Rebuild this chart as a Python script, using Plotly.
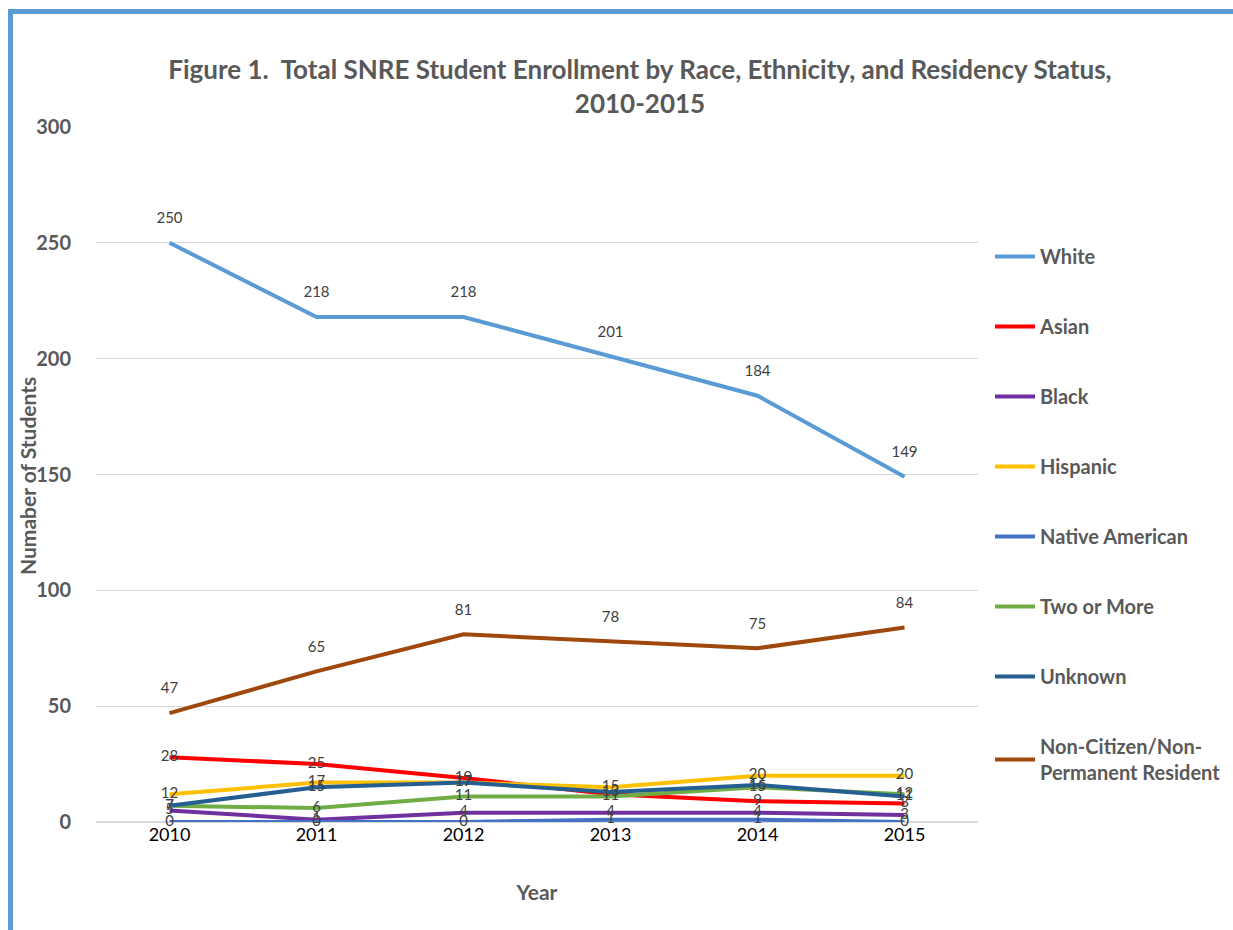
import plotly.graph_objects as go

# Enrollment counts by group, 2010-2015
years = ["2010", "2011", "2012", "2013", "2014", "2015"]
white = [250, 218, 218, 201, 184, 149]
asian = [28, 25, 19, 12, 9, 8]
black = [5, 1, 4, 4, 4, 3]
hispanic = [12, 17, 17, 15, 20, 20]
native_american = [0, 0, 0, 1, 1, 0]
two_or_more = [7, 6, 11, 11, 15, 12]
unknown = [7, 15, 17, 13, 16, 11]
non_citizen = [47, 65, 81, 78, 75, 84]

# name, values, colour, label placement
series = [
    ("White", white, "#5B9BD5", "top center"),
    ("Asian", asian, "#FF0000", "middle center"),
    ("Black", black, "#7030A0", "middle center"),
    ("Hispanic", hispanic, "#FFC000", "middle center"),
    ("Native American", native_american, "#4472C4", "middle center"),
    ("Two or More", two_or_more, "#70AD47", "middle center"),
    ("Unknown", unknown, "#255E91", "middle center"),
    ("Non-Citizen/Non-<br>Permanent Resident", non_citizen, "#9E480E", "top center"),
]

FONT = "Lato, 'Open Sans', Arial, sans-serif"
GRAY = "#595959"

W, H = 1233, 930
L, R, T, B = 96, 255, 127, 108
PW, PH = W - L - R, H - T - B


def px_x(x):
    return (x - L) / PW


def px_y(y):
    return (H - B - y) / PH


fig = go.Figure()
for i, (name, vals, color, pos) in enumerate(series):
    # transparent markers widen the gap between point and label
    msize = 24 if pos.startswith("top") else 1
    fig.add_trace(go.Scatter(
        x=years, y=vals, name=name, mode="lines+markers+text",
        line=dict(color=color, width=4),
        marker=dict(size=msize, color="rgba(0,0,0,0)"),
        text=[str(v) for v in vals], textposition=pos,
        textfont=dict(family=FONT, size=15, color="#404040"),
        legendgroup=f"g{i}", cliponaxis=False,
    ))

fig.update_layout(
    width=W, height=H,
    margin=dict(l=L, r=R, t=T, b=B, autoexpand=False),
    paper_bgcolor="white", plot_bgcolor="white",
    title=dict(
        text="Figure 1.  Total SNRE Student Enrollment by Race, Ethnicity, and Residency Status,<br>2010-2015",
        x=640 / W, xanchor="center", y=1 - 79 / H, yanchor="middle",
        font=dict(family=FONT, size=26, color=GRAY, weight="bold"),
    ),
    xaxis=dict(
        type="category", range=[-0.5, 5.5], showgrid=False, zeroline=False,
        showline=False, ticks="",
        tickfont=dict(family=FONT, size=18, color="#000000"),
        title=dict(text="Year", font=dict(family=FONT, size=21, color=GRAY, weight="bold"), standoff=41),
    ),
    yaxis=dict(
        range=[0, 300], dtick=50, showgrid=True, gridcolor="#D9D9D9", gridwidth=1,
        zeroline=True, zerolinecolor="#D9D9D9", showline=False, ticks="",
        tickfont=dict(family=FONT, size=20, color=GRAY, weight="bold"),
        ticklabelstandoff=24,
    ),
    legend=dict(
        x=px_x(990), xanchor="left", y=px_y(237), yanchor="top",
        font=dict(family=FONT, size=20, color=GRAY, weight="bold"),
        tracegroupgap=41, itemwidth=40, bgcolor="rgba(0,0,0,0)",
    ),
    showlegend=True,
)

# Vertical axis title
fig.add_annotation(
    text="Numaber of Students", textangle=-90, showarrow=False,
    xref="paper", yref="paper", x=px_x(27), y=px_y(476),
    xanchor="center", yanchor="middle",
    font=dict(family=FONT, size=21, color=GRAY, weight="bold"),
)

# Blue frame along the top and left edges
border = "#5B9BD5"
fig.add_shape(type="line", xref="paper", yref="paper",
              x0=px_x(8), x1=px_x(W), y0=px_y(11.5), y1=px_y(11.5),
              line=dict(color=border, width=5), layer="above")
fig.add_shape(type="line", xref="paper", yref="paper",
              x0=px_x(10.5), x1=px_x(10.5), y0=px_y(9), y1=px_y(H),
              line=dict(color=border, width=5), layer="above")

fig.write_html("out.html")
